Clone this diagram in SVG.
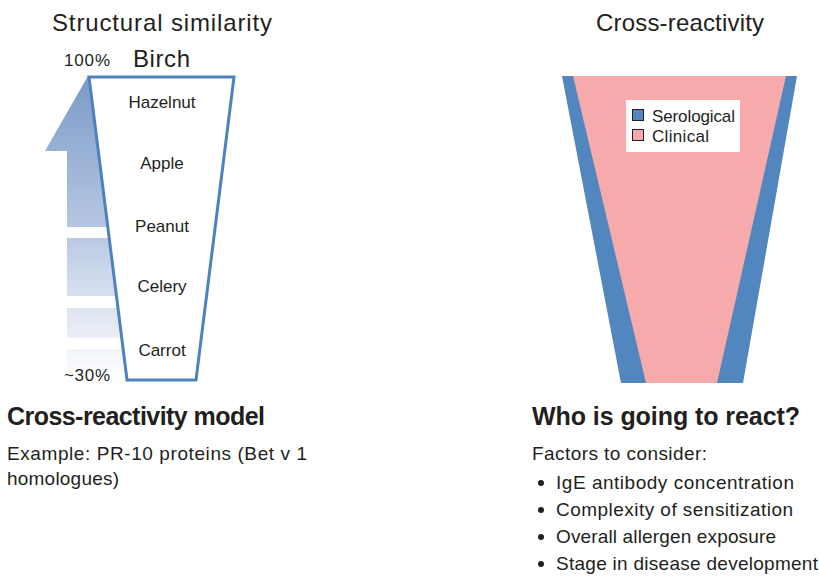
<svg xmlns="http://www.w3.org/2000/svg" width="819" height="577" viewBox="0 0 819 577">
<style>
text{font-family:"Liberation Sans","Noto Sans",sans-serif;fill:#231f20}
.t{font-size:24px}
.m{font-size:17px;text-anchor:middle}
.b{font-size:17px}
.h{font-size:25px;font-weight:bold}
.p{font-size:19px}
</style>
<defs>
<linearGradient id="ag" x1="0" y1="76" x2="0" y2="380" gradientUnits="userSpaceOnUse">
<stop offset="0" stop-color="#7b9ac8"/>
<stop offset="0.5" stop-color="#b6c7e2"/>
<stop offset="1" stop-color="#ffffff"/>
</linearGradient>
</defs>
<rect width="819" height="577" fill="#fff"/>
<text class="t" x="52" y="31" textLength="220">Structural similarity</text>
<text class="t" x="596" y="31" textLength="168">Cross-reactivity</text>
<g id="arrow" fill="url(#ag)">
<polygon points="88,76 130,151 45,151"/>
<rect x="67" y="151" width="60" height="76"/>
<rect x="67" y="238" width="60" height="58"/>
<rect x="67" y="308" width="60" height="30"/>
<rect x="67" y="349" width="60" height="22"/>
</g>
<g id="labels-left">
<text class="b" x="64" y="66" textLength="46">100%</text>
<text class="t" x="133" y="67" textLength="57">Birch</text>
<text class="b" x="64" y="381" textLength="46">~30%</text>
</g>
<g id="funnel-left">
<polygon points="89,77 234,77 196,380 127,380" fill="#fff" stroke="#4f81bd" stroke-width="3" stroke-linejoin="miter"/>
<text class="m" x="162" y="108">Hazelnut</text>
<text class="m" x="162" y="169">Apple</text>
<text class="m" x="162" y="232">Peanut</text>
<text class="m" x="162" y="292">Celery</text>
<text class="m" x="162" y="356">Carrot</text>
</g>
<g id="funnel-right">
<polygon points="562,76 797,76 743,383 621,383" fill="#5286be"/>
<polygon points="573,76 786,76 717,383 646,383" fill="#f6aaac"/>
</g>
<g id="legend">
<rect x="626" y="100" width="114" height="52" fill="#fff"/>
<rect x="632.5" y="109.5" width="11" height="11" fill="#5286be" stroke="#231f20" stroke-width="1"/>
<rect x="632.5" y="129.5" width="11" height="11" fill="#f6aaac" stroke="#231f20" stroke-width="1"/>
<text class="b" x="652" y="122" textLength="83">Serological</text>
<text class="b" x="652" y="142" textLength="57">Clinical</text>
</g>
<g id="text-left">
<text class="h" x="7" y="425" textLength="258">Cross-reactivity model</text>
<text class="p" x="7" y="460" textLength="300">Example: PR-10 proteins (Bet v 1</text>
<text class="p" x="7" y="485" textLength="112">homologues)</text>
</g>
<g id="text-right">
<text class="h" x="532" y="425" textLength="268">Who is going to react?</text>
<text class="p" x="532" y="460" textLength="175">Factors to consider:</text>
<g fill="#231f20">
<circle cx="541" cy="483" r="3"/>
<circle cx="541" cy="510" r="3"/>
<circle cx="541" cy="537" r="3"/>
<circle cx="541" cy="564" r="3"/>
</g>
<text class="p" x="556" y="489" textLength="238">IgE antibody concentration</text>
<text class="p" x="556" y="516" textLength="237">Complexity of sensitization</text>
<text class="p" x="556" y="543" textLength="220">Overall allergen exposure</text>
<text class="p" x="556" y="570" textLength="262">Stage in disease development</text>
</g>
</svg>
